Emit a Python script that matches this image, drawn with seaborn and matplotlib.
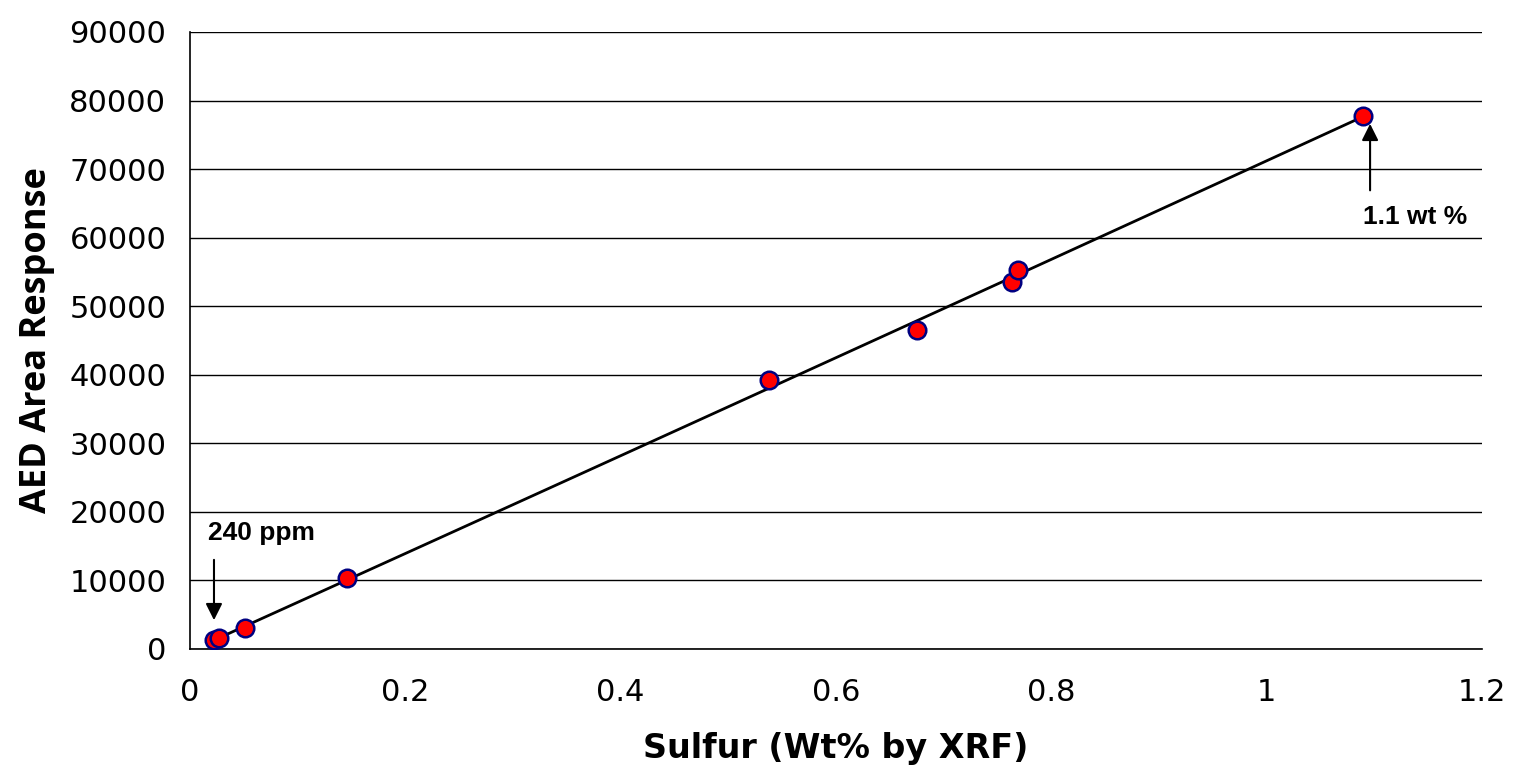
import matplotlib
matplotlib.use("Agg")
import matplotlib.pyplot as plt
from matplotlib import font_manager as fm
import seaborn as sns
import pandas as pd

sulfur_wt = [0.022, 0.027, 0.051, 0.146, 0.538, 0.675, 0.763, 0.769, 1.089]
aed_area = [1300, 1600, 3000, 10300, 39200, 46500, 53600, 55300, 77800]

x_ticks = [0, 0.2, 0.4, 0.6, 0.8, 1, 1.2]
x_tick_labels = ["0", "0.2", "0.4", "0.6", "0.8", "1", "1.2"]
y_ticks = [0, 10000, 20000, 30000, 40000, 50000, 60000, 70000, 80000, 90000]

df = pd.DataFrame({"Sulfur": sulfur_wt, "AED": aed_area})

sns.set_theme(style="white")
plt.rcParams['font.family'] = ['DejaVu Sans']
plt.rcParams['text.color'] = 'black'
plt.rcParams['axes.labelcolor'] = 'black'

# Find the regular-width Liberation Sans Bold (not Narrow)
ann_font = None
for f in fm.fontManager.ttflist:
    if f.name == "Liberation Sans" and "Narrow" not in f.fname and \
            "Bold" in f.fname and "Italic" not in f.fname:
        ann_font = fm.FontProperties(fname=f.fname, size=19)
        break
if ann_font is None:
    ann_font = fm.FontProperties(family="Liberation Sans", weight="bold", size=19)

fig = plt.figure(figsize=(15.21, 7.76), dpi=100)
ax = fig.add_axes([0.1249, 0.1637, 0.9744 - 0.1249, 0.9588 - 0.1637])

for yv in y_ticks:
    ax.axhline(yv, color="black", lw=1.0, zorder=0)

sns.regplot(data=df, x="Sulfur", y="AED", order=2, ci=None, scatter=False,
            line_kws={"color": "black", "lw": 2}, ax=ax)
sns.scatterplot(data=df, x="Sulfur", y="AED", s=160, color="red",
                edgecolor="#000080", linewidth=1.8, zorder=5, ax=ax)

ax.set_xlim(0, 1.2)
ax.set_ylim(0, 90000)
ax.set_xticks(x_ticks)
ax.set_xticklabels(x_tick_labels)
ax.set_yticks(y_ticks)
ax.set_yticklabels([str(v) for v in y_ticks])
ax.tick_params(axis="both", direction="inout", length=12, width=1, colors="black",
               labelsize=22, labelcolor="black")
ax.tick_params(axis="y", pad=11)
ax.tick_params(axis="x", pad=15)

for s in ["top", "right"]:
    ax.spines[s].set_visible(False)
for s in ["left", "bottom"]:
    ax.spines[s].set_color("black")
    ax.spines[s].set_linewidth(1.2)

ax.set_xlabel("Sulfur (Wt% by XRF)", fontsize=24, fontweight="bold", labelpad=18)
ax.set_ylabel("AED Area Response", fontsize=26, fontweight="bold", labelpad=10,
              family="Open Sans")

# arrows
ax.annotate("", xy=(0.0223, 4200), xytext=(0.0223, 13000),
            arrowprops=dict(arrowstyle="-|>", color="black", lw=1.5,
                            mutation_scale=25, shrinkA=0, shrinkB=0))
ax.text(0.0167, 16900, "240 ppm", fontproperties=ann_font,
        ha="left", va="center", color="black")
ax.annotate("", xy=(1.096, 76600), xytext=(1.096, 66900),
            arrowprops=dict(arrowstyle="-|>", color="black", lw=1.5,
                            mutation_scale=25, shrinkA=0, shrinkB=0))
ax.text(1.0894, 63000, "1.1 wt %", fontproperties=ann_font,
        ha="left", va="center", color="black")

fig.savefig("out.png", dpi=100)
